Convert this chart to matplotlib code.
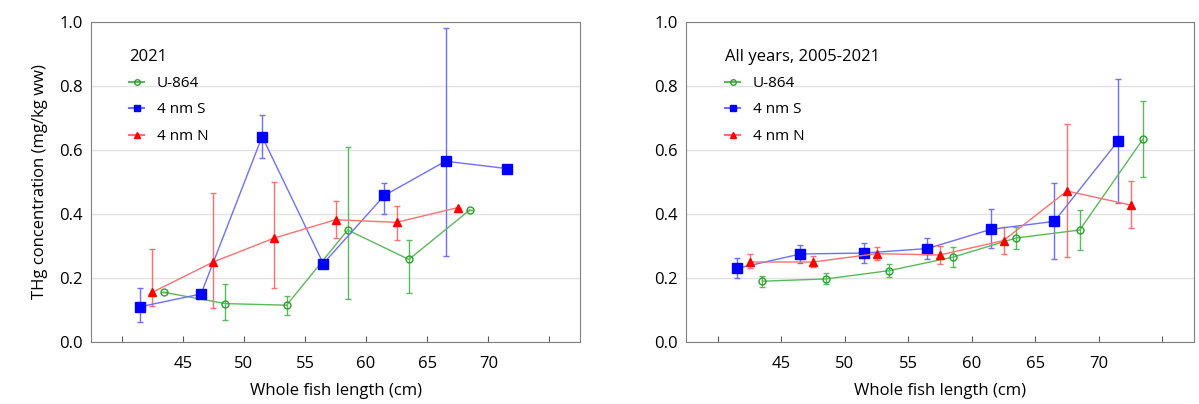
import matplotlib
matplotlib.use("Agg")
import matplotlib.pyplot as plt
from matplotlib.lines import Line2D

plt.rcParams['font.family'] = ['Open Sans', 'DejaVu Sans']

# Left panel: 2021
l_g_x = [43.5, 48.5, 53.5, 58.5, 63.5, 68.5]
l_g_y = [0.155, 0.12, 0.115, 0.35, 0.258, 0.413]
l_g_lo = [0.155, 0.07, 0.085, 0.135, 0.153, 0.413]
l_g_hi = [0.155, 0.18, 0.145, 0.61, 0.318, 0.413]
l_b_x = [41.5, 46.5, 51.5, 56.5, 61.5, 66.5, 71.5]
l_b_y = [0.11, 0.15, 0.642, 0.245, 0.458, 0.565, 0.542]
l_b_lo = [0.063, 0.15, 0.576, 0.245, 0.40, 0.27, 0.542]
l_b_hi = [0.168, 0.15, 0.71, 0.245, 0.497, 0.982, 0.542]
l_r_x = [42.5, 47.5, 52.5, 57.5, 62.5, 67.5]
l_r_y = [0.155, 0.25, 0.325, 0.382, 0.374, 0.42]
l_r_lo = [0.112, 0.105, 0.17, 0.325, 0.32, 0.42]
l_r_hi = [0.29, 0.467, 0.5, 0.442, 0.425, 0.42]

# Right panel: all years
r_g_x = [43.5, 48.5, 53.5, 58.5, 63.5, 68.5, 73.5]
r_g_y = [0.19, 0.197, 0.223, 0.265, 0.325, 0.35, 0.635]
r_g_lo = [0.173, 0.18, 0.203, 0.235, 0.29, 0.288, 0.515]
r_g_hi = [0.206, 0.215, 0.243, 0.297, 0.36, 0.413, 0.753]
r_b_x = [41.5, 46.5, 51.5, 56.5, 61.5, 66.5, 71.5]
r_b_y = [0.23, 0.275, 0.278, 0.292, 0.352, 0.377, 0.627]
r_b_lo = [0.2, 0.248, 0.246, 0.258, 0.293, 0.26, 0.433]
r_b_hi = [0.262, 0.303, 0.31, 0.325, 0.415, 0.497, 0.822]
r_r_x = [42.5, 47.5, 52.5, 57.5, 62.5, 67.5, 72.5]
r_r_y = [0.25, 0.25, 0.276, 0.272, 0.317, 0.472, 0.428]
r_r_lo = [0.23, 0.235, 0.256, 0.245, 0.275, 0.265, 0.355]
r_r_hi = [0.275, 0.268, 0.297, 0.3, 0.358, 0.68, 0.503]

labels = ['U-864', '4 nm S', '4 nm N']
colors = ['#2ca02c', '#0000ff', '#ff0000']
lcolors = ['#5cb85c', '#6f6fff', '#ff6f6f']
markers = ['o', 's', '^']
msizes = [5, 6.5, 5.5]

fig = plt.figure(figsize=(11.99, 4.04), dpi=100)
axL = fig.add_axes([91/1199, 62/404, 489/1199, 320/404])
axR = fig.add_axes([686/1199, 62/404, 508/1199, 320/404])

def draw(ax, series, title):
    for (x, y, lo, hi), c, lc, m, ms in zip(series, colors, lcolors, markers, msizes):
        yerr = [[yy - l for yy, l in zip(y, lo)], [h - yy for yy, h in zip(y, hi)]]
        ax.errorbar(x, y, yerr=yerr, color=lc, ecolor=lc, lw=1, elinewidth=1, capsize=2,
                    marker=m, ms=ms, mfc='none' if m == 'o' else c, mec=c, zorder=3)
    ax.set_xlim(37.5, 77.5)
    ax.set_ylim(0, 1.0)
    ax.set_xticks([40, 45, 50, 55, 60, 65, 70, 75])
    ax.set_xticklabels(['', '45', '50', '55', '60', '65', '70', ''])
    ax.set_yticks([0, 0.2, 0.4, 0.6, 0.8, 1.0])
    ax.set_yticklabels(['0.0', '0.2', '0.4', '0.6', '0.8', '1.0'])
    ax.tick_params(axis='x', direction='in', length=4, color='#555555', labelsize=12, pad=10)
    ax.tick_params(axis='y', length=0, labelsize=12, pad=6)
    ax.grid(axis='y', color='#e3e3e3', lw=1)
    ax.set_axisbelow(True)
    for s in ax.spines.values():
        s.set_color('#808080')
    ax.set_xlabel('Whole fish length (cm)', fontsize=12, labelpad=8)
    handles = [Line2D([], [], color=lc, marker=m, ms=4, mfc='none' if m == 'o' else c, mec=c)
               for c, lc, m in zip(colors, lcolors, markers)]
    ax.legend(handles, labels, title=title, loc='upper left', bbox_to_anchor=(0.05, 0.96),
              frameon=False, fontsize=11, title_fontsize=12, handlelength=1.0,
              labelspacing=0.75, alignment='left')

draw(axL, [(l_g_x, l_g_y, l_g_lo, l_g_hi), (l_b_x, l_b_y, l_b_lo, l_b_hi), (l_r_x, l_r_y, l_r_lo, l_r_hi)], '2021')
draw(axR, [(r_g_x, r_g_y, r_g_lo, r_g_hi), (r_b_x, r_b_y, r_b_lo, r_b_hi), (r_r_x, r_r_y, r_r_lo, r_r_hi)], 'All years, 2005-2021')
axL.set_ylabel('THg concentration (mg/kg ww)', fontsize=12, labelpad=8)

fig.savefig('out.png', dpi=100)
